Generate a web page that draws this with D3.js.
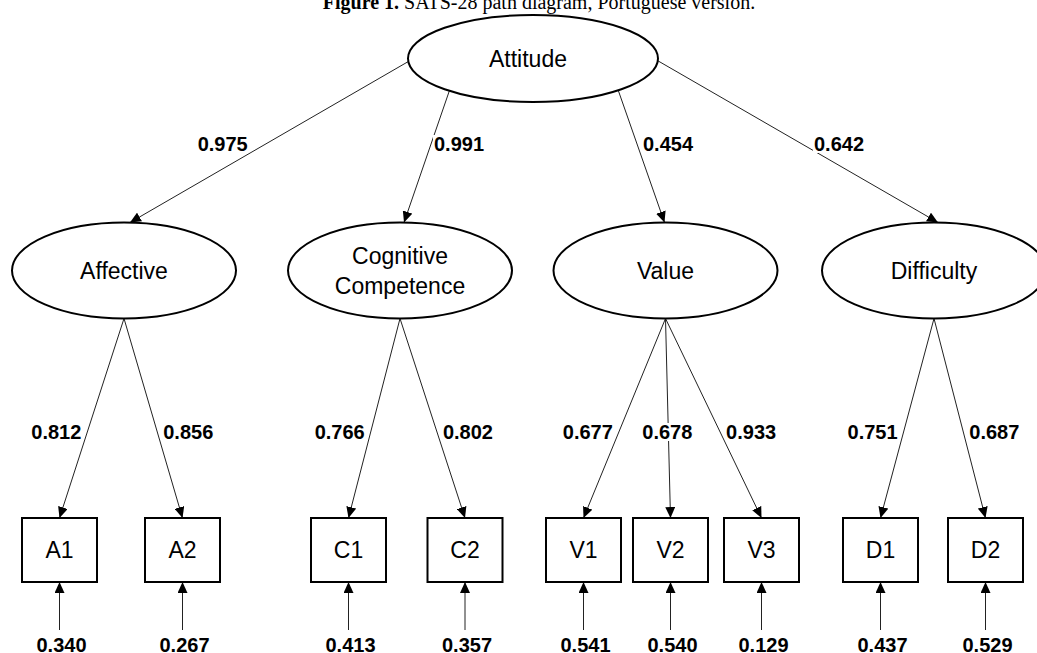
<!DOCTYPE html>
<html>
<head>
<meta charset="utf-8">
<script src="https://cdn.jsdelivr.net/npm/d3@7/dist/d3.min.js"></script>
<style>
  html, body { margin: 0; padding: 0; background: #fff; }
  svg { display: block; }
</style>
</head>
<body>
<svg id="diagram" width="1037" height="653"></svg>
<script>
// ---- Model estimates (standardised) ----
const higherFactor = "Attitude";
const latentFactors = ["Affective", "Cognitive Competence", "Value", "Difficulty"];
const structuralLoadings = [0.975, 0.991, 0.454, 0.642];

const items = ["A1", "A2", "C1", "C2", "V1", "V2", "V3", "D1", "D2"];
const itemFactors = ["Affective", "Affective", "Cognitive Competence", "Cognitive Competence",
                     "Value", "Value", "Value", "Difficulty", "Difficulty"];
const itemLoadings = [0.812, 0.856, 0.766, 0.802, 0.677, 0.678, 0.933, 0.751, 0.687];
const errorVariances = [0.340, 0.267, 0.413, 0.357, 0.541, 0.540, 0.129, 0.437, 0.529];

// ---- Layout ----
const W = 1037, H = 653;
const apex = { cx: 533, cy: 58.5, rx: 125, ry: 43.5 };
const latentX = d3.scaleOrdinal().domain(latentFactors).range([124, 400, 665.5, 934]);
const latentRow = { cy: 270.5, rx: 112, ry: 48 };
// where each structural path leaves the Attitude ellipse (degrees, y down)
const exitAngle = d3.scaleOrdinal().domain(latentFactors).range([176, 132, 47, 3]);
// small horizontal shift of each arrow tip on the factor ellipse
const tipShift = d3.scaleOrdinal().domain(latentFactors).range([6, 4, -1, 4]);
// label offset from its path at label height
const topLabelDx = d3.scaleOrdinal().domain(latentFactors).range([-43, 28, 31, 37]);
const topLabelY = 144;

const itemX = d3.scaleOrdinal().domain(items)
  .range([59.5, 182.5, 348.5, 465, 583.5, 670.5, 761.5, 880.5, 985.5]);
const box = { w: 75, h: 64, top: 518 };
const loadLabelY = 432;
const errStartY = 630;

const fmt = d3.format(".3f");
const sans = "'Liberation Sans', Arial, sans-serif";

const svg = d3.select("#diagram");
svg.append("rect").attr("width", W).attr("height", H).attr("fill", "#fff");

svg.append("defs").append("marker")
  .attr("id", "head")
  .attr("markerUnits", "userSpaceOnUse")
  .attr("viewBox", "0 0 11 10")
  .attr("refX", 11).attr("refY", 5)
  .attr("markerWidth", 11).attr("markerHeight", 10)
  .attr("orient", "auto")
  .append("path").attr("d", "M0,0L11,5L0,10Z").attr("fill", "#000");

// ---- Title ----
const title = svg.append("text")
  .attr("x", 539).attr("y", 9)
  .attr("text-anchor", "middle")
  .attr("font-family", "'Liberation Serif', 'Times New Roman', serif")
  .attr("font-size", 20).attr("fill", "#000");
title.append("tspan").attr("font-weight", "bold").text("Figure 1.");
title.append("tspan").text(" SATS-28 path diagram, Portuguese version.");

// ---- Nodes ----
const edges = svg.append("g");
const nodes = svg.append("g");
const labels = svg.append("g");

nodes.append("ellipse")
  .attr("cx", apex.cx).attr("cy", apex.cy).attr("rx", apex.rx).attr("ry", apex.ry)
  .attr("fill", "#fff").attr("stroke", "#000").attr("stroke-width", 2);
nodes.append("text")
  .attr("x", apex.cx - 5).attr("y", apex.cy + 8)
  .attr("text-anchor", "middle").attr("font-family", sans).attr("font-size", 23)
  .text(higherFactor);

const lat = nodes.selectAll("g.latent").data(latentFactors).join("g").attr("class", "latent");
lat.append("ellipse")
  .attr("cx", d => latentX(d)).attr("cy", latentRow.cy)
  .attr("rx", latentRow.rx).attr("ry", latentRow.ry)
  .attr("fill", "#fff").attr("stroke", "#000").attr("stroke-width", 2);
lat.each(function (d) {
  const words = d.split(" ");
  const t = d3.select(this).append("text")
    .attr("text-anchor", "middle").attr("font-family", sans).attr("font-size", 23);
  const lh = 30;
  const y0 = latentRow.cy + 8 - (words.length - 1) * lh / 2;
  words.forEach((w, i) => {
    t.append("tspan").attr("x", latentX(d)).attr("y", y0 + i * lh).text(w);
  });
});

const obs = nodes.selectAll("g.item").data(items).join("g").attr("class", "item");
obs.append("rect")
  .attr("x", d => itemX(d) - box.w / 2).attr("y", box.top)
  .attr("width", box.w).attr("height", box.h)
  .attr("fill", "#fff").attr("stroke", "#000").attr("stroke-width", 2);
obs.append("text")
  .attr("x", d => itemX(d)).attr("y", box.top + box.h / 2 + 8)
  .attr("text-anchor", "middle").attr("font-family", sans).attr("font-size", 23)
  .text(d => d);

// ---- Paths ----
function labelWithBg(x, y, txt) {
  const g = labels.append("g");
  const r = g.append("rect").attr("fill", "#fff");
  const t = g.append("text")
    .attr("x", x).attr("y", y)
    .attr("text-anchor", "middle").attr("font-family", sans)
    .attr("font-size", 20).attr("font-weight", "bold")
    .text(txt);
  const b = t.node().getBBox();
  r.attr("x", b.x - 1).attr("y", b.y + 2).attr("width", b.width + 2).attr("height", b.height - 4);
}

const lineColor = "#222";

// structural paths: Attitude -> first-order factors
latentFactors.forEach((f, i) => {
  const a = exitAngle(f) * Math.PI / 180;
  const x1 = apex.cx + apex.rx * Math.cos(a), y1 = apex.cy + apex.ry * Math.sin(a);
  const x2 = latentX(f) + tipShift(f), y2 = latentRow.cy - latentRow.ry;
  edges.append("line")
    .attr("x1", x1).attr("y1", y1).attr("x2", x2).attr("y2", y2)
    .attr("stroke", lineColor).attr("stroke-width", 1)
    .attr("marker-end", "url(#head)");
  const lx = x1 + (x2 - x1) * (topLabelY - y1) / (y2 - y1);
  labelWithBg(lx + topLabelDx(f), topLabelY + 7, fmt(structuralLoadings[i]));
});

// measurement paths: factors -> items
items.forEach((it, i) => {
  const f = itemFactors[i];
  const x1 = latentX(f), y1 = latentRow.cy + latentRow.ry;
  const x2 = itemX(it), y2 = box.top;
  edges.append("line")
    .attr("x1", x1).attr("y1", y1).attr("x2", x2).attr("y2", y2)
    .attr("stroke", lineColor).attr("stroke-width", 1)
    .attr("marker-end", "url(#head)");
  const lx = x1 + (x2 - x1) * (loadLabelY - y1) / (y2 - y1);
  const side = Math.abs(x2 - x1) < 10 ? 0 : Math.sign(x2 - x1);
  labelWithBg(lx + side * 31 - (side === 0 ? 1 : 0), loadLabelY + 7, fmt(itemLoadings[i]));
});

// residual paths into items
items.forEach((it, i) => {
  edges.append("line")
    .attr("x1", itemX(it)).attr("y1", errStartY)
    .attr("x2", itemX(it)).attr("y2", box.top + box.h)
    .attr("stroke", lineColor).attr("stroke-width", 1)
    .attr("marker-end", "url(#head)");
  labels.append("text")
    .attr("x", itemX(it) + 2).attr("y", 652)
    .attr("text-anchor", "middle").attr("font-family", sans)
    .attr("font-size", 20).attr("font-weight", "bold")
    .text(fmt(errorVariances[i]));
});
</script>
</body>
</html>
